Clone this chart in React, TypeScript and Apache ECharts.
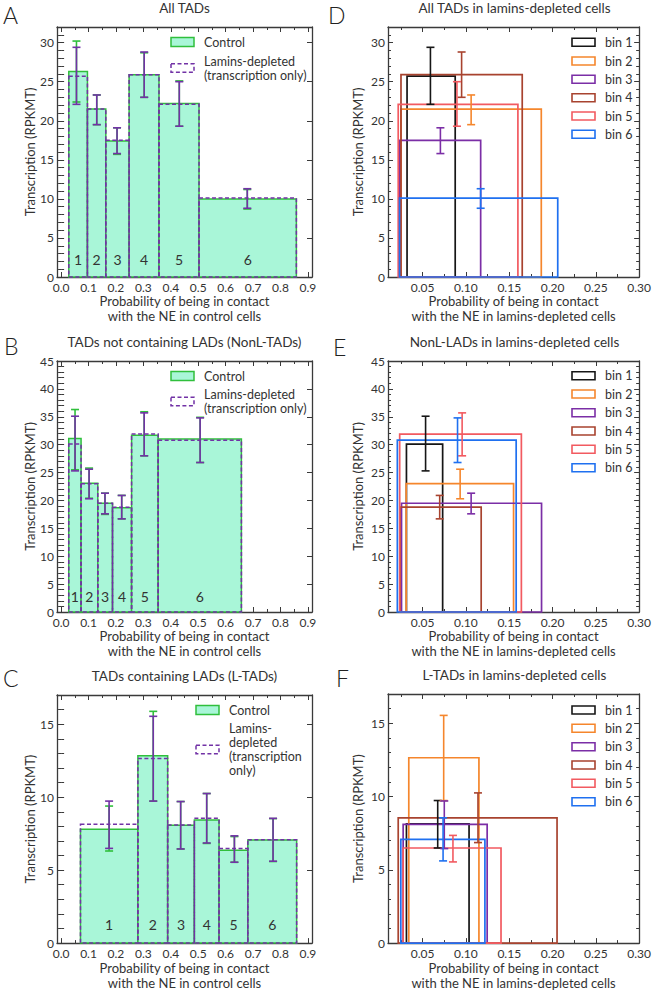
import React, { useEffect, useRef } from 'react';
import * as echarts from 'echarts';

// ---------------- data ----------------
const binNumbers = ['1', '2', '3', '4', '5', '6'];
const binNames = ['bin 1', 'bin 2', 'bin 3', 'bin 4', 'bin 5', 'bin 6'];

// A / D : All TADs
const allEdges = [0.028, 0.096, 0.163, 0.248, 0.357, 0.503, 0.858];
const allErrX = [0.056, 0.13, 0.204, 0.303, 0.431, 0.679];
const allCtrl = [26.3, 21.5, 17.4, 25.9, 22.2, 10.0];
const allCtrlLow = [22.4, 19.5, 15.7, 23.0, 19.3, 8.7];
const allCtrlHigh = [30.2, 23.3, 19.1, 28.7, 25.1, 11.2];
const allLam = [25.7, 21.5, 17.5, 25.9, 22.1, 10.1];
const allLamLow = [22.1, 19.5, 15.8, 23.0, 19.3, 8.8];
const allLamHigh = [29.4, 23.3, 19.1, 28.8, 25.0, 11.3];
const allLamFrom = [0.032, 0.025, 0.0237, 0.025, 0.0218, 0.0233];
const allLamTo = [0.0876, 0.187, 0.117, 0.165, 0.16, 0.206];
const allLamErrX = [0.059, 0.106, 0.0705, 0.095, 0.0896, 0.117];

// B / E : NonL-TADs
const nonlEdges = [0.0278, 0.0728, 0.1338, 0.1875, 0.257, 0.354, 0.6575];
const nonlErrX = [0.0508, 0.102, 0.16, 0.221, 0.303, 0.507];
const nonlCtrl = [31.1, 23.1, 19.5, 18.7, 31.7, 31.0];
const nonlCtrlLow = [25.5, 20.4, 17.5, 16.7, 28.0, 26.8];
const nonlCtrlHigh = [36.3, 25.8, 21.3, 20.9, 35.9, 34.9];
const nonlLam = [30.1, 23.0, 19.5, 18.8, 31.9, 30.8];
const nonlLamLow = [25.3, 20.3, 17.6, 16.7, 28.0, 26.8];
const nonlLamHigh = [35.1, 25.6, 21.3, 20.9, 35.7, 34.8];
const nonlLamFrom = [0.0313, 0.031, 0.0256, 0.024, 0.0235, 0.0208];
const nonlLamTo = [0.0731, 0.155, 0.1873, 0.1176, 0.164, 0.158];
const nonlLamErrX = [0.0534, 0.0933, 0.106, 0.0697, 0.0956, 0.0903];

// C / F : L-TADs
const lEdges = [0.0706, 0.28, 0.3886, 0.486, 0.576, 0.681, 0.859];
const lErrX = [0.175, 0.336, 0.436, 0.531, 0.632, 0.773];
const lCtrl = [7.8, 12.83, 8.08, 8.44, 6.36, 7.06];
const lCtrlLow = [6.31, 9.73, 6.45, 6.83, 5.54, 5.59];
const lCtrlHigh = [9.39, 15.88, 9.7, 10.25, 7.3, 8.53];
const lLam = [8.14, 12.65, 8.1, 8.55, 6.49, 7.08];
const lLamLow = [6.49, 9.73, 6.45, 6.86, 5.54, 5.61];
const lLamHigh = [9.73, 15.54, 9.7, 10.25, 7.35, 8.55];
const lLamFrom = [0.0313, 0.034, 0.0275, 0.0218, 0.0275, 0.0248];
const lLamTo = [0.1036, 0.115, 0.1245, 0.2052, 0.1405, 0.1219];
const lLamErrX = [0.0674, 0.0743, 0.075, 0.1139, 0.085, 0.0736];

// ---------------- style ----------------
const FONT = 'Lato, "Open Sans", "DejaVu Sans", sans-serif';
const TEXT = '#333333';
const AXIS = '#3a3a3a';
const MINT = '#a9f6d8';
const GREEN = '#30bf3c';
const PURPLE = '#7232a6';
const BIN_COLORS = ['#161616', '#f5862c', '#7b2ea6', '#a8432f', '#f25a60', '#1f70f0'];

const ctrlXName = 'Probability of being in contact\nwith the NE in control cells';
const lamXName = 'Probability of being in contact\nwith the NE in lamins-depleted cells';
const yName = 'Transcription (RPKMT)';

// panel order: 0=A, 1=D, 2=B, 3=E, 4=C, 5=F
const LAYOUT = [
  { left: 57, top: 27, width: 255, height: 250 },
  { left: 388, top: 27, width: 253, height: 250 },
  { left: 57, top: 361, width: 255, height: 251 },
  { left: 388, top: 361, width: 253, height: 251 },
  { left: 57, top: 695, width: 255, height: 250 },
  { left: 388, top: 694, width: 253, height: 251 },
];

function xAxes(gi: number, min: number, max: number, step: number, digits: number, split: number, name: string) {
  const fmt = (v: number) => {
    const r = v / step;
    return Math.abs(r - Math.round(r)) < 1e-6 ? v.toFixed(digits) : '';
  };
  const common: any = {
    gridIndex: gi,
    type: 'value',
    min,
    max,
    splitNumber: split,
    minInterval: step,
    maxInterval: step,
    splitLine: { show: false },
    axisLine: { show: true, onZero: false, lineStyle: { color: AXIS, width: 1.3 } },
    axisTick: { show: true, inside: true, length: 5, lineStyle: { color: AXIS, width: 1 } },
    minorTick: { show: true, splitNumber: 2, length: 3, lineStyle: { color: AXIS, width: 1 } },
  };
  return [
    {
      ...common,
      position: 'bottom',
      axisLabel: { show: true, margin: 4, formatter: fmt, color: TEXT, fontSize: 12, fontFamily: FONT },
      name,
      nameLocation: 'middle',
      nameGap: 14,
      nameTextStyle: { color: TEXT, fontSize: 13, lineHeight: 15, fontFamily: FONT },
    },
    { ...common, position: 'top', axisLabel: { show: false } },
  ];
}

function yAxes(gi: number, max: number, gap: number) {
  const common: any = { gridIndex: gi, type: 'value', min: 0, max, splitLine: { show: false } };
  const line = { show: true, onZero: false, lineStyle: { color: AXIS, width: 1.3 } };
  return [
    {
      ...common,
      interval: 5,
      position: 'left',
      axisLine: line,
      axisTick: { show: true, inside: true, length: 5, lineStyle: { color: AXIS, width: 1 } },
      axisLabel: {
        margin: 3,
        color: TEXT,
        fontSize: 12,
        fontFamily: FONT,
        formatter: (v: number) => (Math.abs(v % 5) < 1e-9 ? String(v) : ''),
      },
      name: yName,
      nameLocation: 'middle',
      nameGap: gap,
      nameTextStyle: { color: TEXT, fontSize: 13, fontFamily: FONT },
    },
    {
      ...common,
      interval: 5,
      position: 'right',
      axisLine: line,
      axisTick: { show: true, inside: true, length: 5, lineStyle: { color: AXIS, width: 1 } },
      axisLabel: { show: false },
    },
    {
      ...common,
      interval: 1,
      position: 'left',
      axisLine: { show: false },
      axisTick: { show: true, inside: true, length: 3, lineStyle: { color: AXIS, width: 1 } },
      axisLabel: { show: false },
    },
    {
      ...common,
      interval: 1,
      position: 'right',
      axisLine: { show: false },
      axisTick: { show: true, inside: true, length: 3, lineStyle: { color: AXIS, width: 1 } },
      axisLabel: { show: false },
    },
  ];
}

function rectSeries(gi: number, data: number[][], styleFn: (i: number) => any, z: number) {
  return {
    type: 'custom',
    xAxisIndex: 2 * gi,
    yAxisIndex: 4 * gi,
    z,
    silent: true,
    data,
    renderItem: (params: any, api: any) => {
      const a = api.coord([api.value(0), api.value(2)]);
      const b = api.coord([api.value(1), 0]);
      return {
        type: 'rect',
        shape: { x: a[0], y: a[1], width: b[0] - a[0], height: b[1] - a[1] },
        style: styleFn(params.dataIndex),
      };
    },
  };
}

function errSeries(gi: number, data: number[][], colorFn: (i: number) => string, z: number) {
  return {
    type: 'custom',
    xAxisIndex: 2 * gi,
    yAxisIndex: 4 * gi,
    z,
    silent: true,
    data,
    renderItem: (params: any, api: any) => {
      const lo = api.coord([api.value(0), api.value(1)]);
      const hi = api.coord([api.value(0), api.value(2)]);
      const style = { stroke: colorFn(params.dataIndex), lineWidth: 1.6, fill: 'none' };
      const cap = 4;
      return {
        type: 'group',
        children: [
          { type: 'line', shape: { x1: lo[0], y1: lo[1], x2: hi[0], y2: hi[1] }, style },
          { type: 'line', shape: { x1: lo[0] - cap, y1: lo[1], x2: lo[0] + cap, y2: lo[1] }, style },
          { type: 'line', shape: { x1: hi[0] - cap, y1: hi[1], x2: hi[0] + cap, y2: hi[1] }, style },
        ],
      };
    },
  };
}

function labelSeries(gi: number, centers: number[], offset: number) {
  return {
    type: 'custom',
    xAxisIndex: 2 * gi,
    yAxisIndex: 4 * gi,
    z: 10,
    silent: true,
    data: centers.map((c) => [c, 0]),
    renderItem: (params: any, api: any) => {
      const p = api.coord([api.value(0), 0]);
      return {
        type: 'text',
        x: p[0],
        y: p[1] - offset,
        style: {
          text: binNumbers[params.dataIndex],
          fill: TEXT,
          fontSize: 14,
          fontFamily: FONT,
          align: 'center',
          verticalAlign: 'middle',
          textAlign: 'center',
          textVerticalAlign: 'middle',
        },
      };
    },
  };
}

function zip3(a: number[], b: number[], c: number[]) {
  return a.map((v, i) => [v, b[i], c[i]]);
}

function controlSeries(
  gi: number,
  edges: number[],
  errX: number[],
  ctrl: number[],
  cLow: number[],
  cHigh: number[],
  lam: number[],
  lLow: number[],
  lHigh: number[],
  labelOffset: number
) {
  const from = edges.slice(0, -1);
  const to = edges.slice(1);
  const centers = from.map((f, i) => (f + to[i]) / 2);
  return [
    rectSeries(gi, zip3(from, to, ctrl), () => ({ fill: MINT, stroke: GREEN, lineWidth: 1.5 }), 1),
    errSeries(gi, zip3(errX, cLow, cHigh), () => GREEN, 2),
    rectSeries(gi, zip3(from, to, lam), () => ({ fill: 'none', stroke: PURPLE, lineWidth: 1.5, lineDash: [4, 2.5] }), 3),
    errSeries(gi, zip3(errX, lLow, lHigh), () => PURPLE, 4),
    labelSeries(gi, centers, labelOffset),
  ];
}

function laminSeries(gi: number, from: number[], to: number[], h: number[], errX: number[], low: number[], high: number[]) {
  return [
    rectSeries(gi, zip3(from, to, h), (i) => ({ fill: 'none', stroke: BIN_COLORS[i], lineWidth: 1.7 }), 1),
    errSeries(gi, zip3(errX, low, high), (i) => BIN_COLORS[i], 2),
  ];
}

function txt(x: number, y: number, text: string, size: number, align = 'left', extra: any = {}) {
  return {
    type: 'text',
    x,
    y,
    silent: true,
    style: {
      text,
      fill: TEXT,
      fontSize: size,
      fontFamily: FONT,
      align,
      verticalAlign: 'middle',
      textAlign: align,
      textVerticalAlign: 'middle',
      ...extra,
    },
  };
}

function box(x: number, y: number, w: number, h: number, style: any) {
  return { type: 'rect', silent: true, shape: { x, y, width: w, height: h }, style };
}

function controlLegend(bx: number, tx: number, y1: number, y2: number, lamText: string, lh: number) {
  return [
    box(bx, y1 - 4.5, 23, 9, { fill: MINT, stroke: GREEN, lineWidth: 1.5 }),
    txt(tx, y1, 'Control', 12.5),
    box(bx, y2 - 4.2, 23, 8.4, { fill: 'none', stroke: PURPLE, lineWidth: 1.5, lineDash: [4, 2.5] }),
    txt(tx, y2, lamText, 12.5, 'left', { lineHeight: lh }),
  ];
}

function binLegend(rows: number[]) {
  const out: any[] = [];
  rows.forEach((y, i) => {
    out.push(box(572, y - 4, 23, 8, { fill: 'none', stroke: BIN_COLORS[i], lineWidth: 1.6 }));
    out.push(txt(605, y, binNames[i], 12.5));
  });
  return out;
}

function buildOption() {
  const grid = LAYOUT.map((g) => ({ ...g, containLabel: false }));
  const xAxis: any[] = [
    ...xAxes(0, -0.015, 0.915, 0.1, 1, 9, ctrlXName),
    ...xAxes(1, 0.01, 0.3, 0.05, 2, 6, lamXName),
    ...xAxes(2, -0.015, 0.915, 0.1, 1, 9, ctrlXName),
    ...xAxes(3, 0.01, 0.3, 0.05, 2, 6, lamXName),
    ...xAxes(4, -0.015, 0.915, 0.1, 1, 9, ctrlXName),
    ...xAxes(5, 0.01, 0.3, 0.05, 2, 6, lamXName),
  ];
  const yAxis: any[] = [
    ...yAxes(0, 32, 20),
    ...yAxes(1, 32, 24),
    ...yAxes(2, 45, 20),
    ...yAxes(3, 45, 24),
    ...yAxes(4, 17, 20),
    ...yAxes(5, 17, 24),
  ];
  const series: any[] = [
    ...controlSeries(0, allEdges, allErrX, allCtrl, allCtrlLow, allCtrlHigh, allLam, allLamLow, allLamHigh, 18),
    ...laminSeries(1, allLamFrom, allLamTo, allLam, allLamErrX, allLamLow, allLamHigh),
    ...controlSeries(2, nonlEdges, nonlErrX, nonlCtrl, nonlCtrlLow, nonlCtrlHigh, nonlLam, nonlLamLow, nonlLamHigh, 16),
    ...laminSeries(3, nonlLamFrom, nonlLamTo, nonlLam, nonlLamErrX, nonlLamLow, nonlLamHigh),
    ...controlSeries(4, lEdges, lErrX, lCtrl, lCtrlLow, lCtrlHigh, lLam, lLamLow, lLamHigh, 19),
    ...laminSeries(5, lLamFrom, lLamTo, lLam, lLamErrX, lLamLow, lLamHigh),
  ];
  const letterStyle = { fontWeight: 300, fill: '#222' };
  const T = 13.5;
  const graphic: any[] = [
    // panel letters
    txt(3, 15, 'A', 23, 'left', letterStyle),
    txt(328, 15, 'D', 23, 'left', letterStyle),
    txt(4, 346, 'B', 23, 'left', letterStyle),
    txt(333, 347, 'E', 23, 'left', letterStyle),
    txt(3, 678, 'C', 23, 'left', letterStyle),
    txt(336, 678, 'F', 23, 'left', letterStyle),
    // titles
    txt(184.5, 8, 'All TADs', T, 'center'),
    txt(514.5, 8, 'All TADs in lamins-depleted cells', T, 'center'),
    txt(184.5, 342, 'TADs not containing LADs (NonL-TADs)', T, 'center'),
    txt(514.5, 342, 'NonL-LADs in lamins-depleted cells', T, 'center'),
    txt(184.5, 676, 'TADs containing LADs (L-TADs)', T, 'center'),
    txt(514.5, 675, 'L-TADs in lamins-depleted cells', T, 'center'),
    // legends
    ...controlLegend(171, 204, 42, 68, 'Lamins-depleted\n(transcription only)', 14),
    ...controlLegend(171, 204, 376, 401.5, 'Lamins-depleted\n(transcription only)', 14),
    ...controlLegend(196, 229, 710, 749.5, 'Lamins-\ndepleted\n(transcription\nonly)', 14.3),
    ...binLegend([42.3, 61, 79.3, 97.7, 116, 134.3]),
    ...binLegend([375.7, 394, 412.7, 431, 449.3, 467.7]),
    ...binLegend([710, 728.3, 746.7, 765, 783.3, 801.7]),
  ];
  return {
    animation: false,
    backgroundColor: '#ffffff',
    grid,
    xAxis,
    yAxis,
    series,
    graphic: { elements: graphic },
  };
}

export default function App() {
  const ref = useRef<HTMLDivElement>(null);
  useEffect(() => {
    if (!ref.current) return;
    const chart = echarts.init(ref.current, undefined, { renderer: 'svg' });
    chart.setOption(buildOption() as any);
    return () => chart.dispose();
  }, []);
  return (
    <div
      ref={ref}
      style={{ position: 'absolute', left: 0, top: 0, width: 654, height: 991, background: '#fff' }}
    />
  );
}
